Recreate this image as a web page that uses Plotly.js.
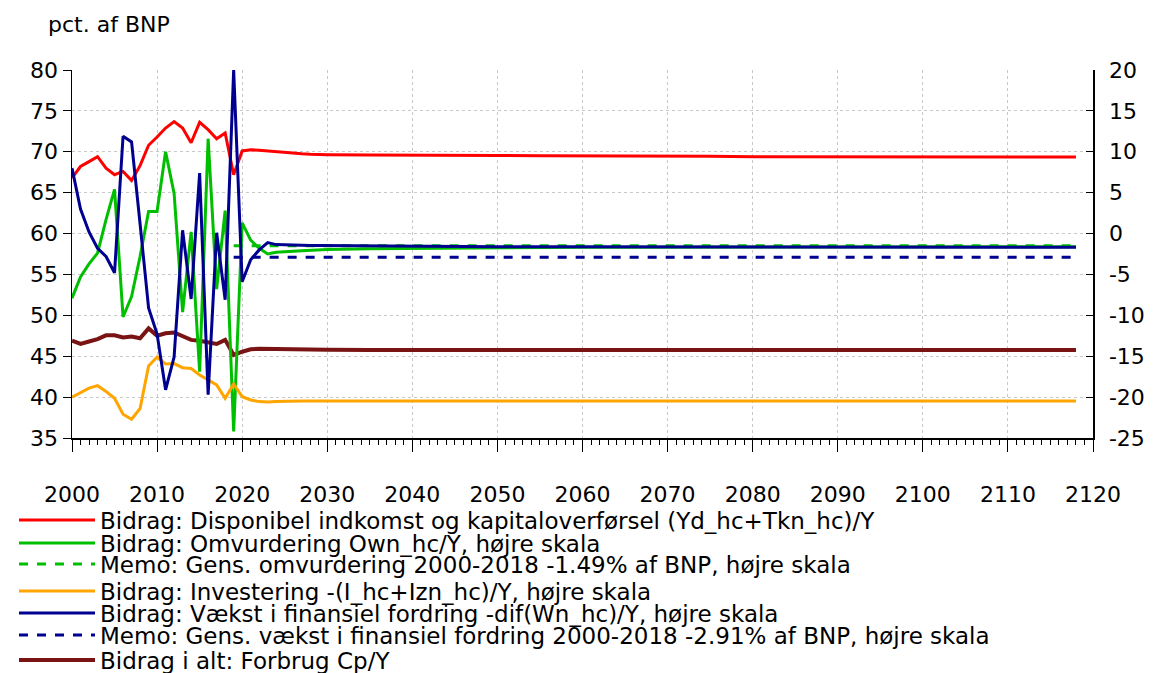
<!DOCTYPE html>
<html>
<head>
<meta charset="utf-8">
<script src="https://cdn.plot.ly/plotly-3.0.1.min.js"></script>
<style>
  html, body { margin: 0; padding: 0; background: #fff; }
  #chart { width: 1155px; height: 673px; }
</style>
</head>
<body>
<div id="chart"></div>
<script>
// ---- Data ----
const years = [2000,2001,2002,2003,2004,2005,2006,2007,2008,2009,2010,2011,2012,2013,2014,2015,2016,2017,2018,2019,2020,2021,2022,2023,2024,2025,2026,2027,2028,2029,2030,2035,2040,2045,2050,2055,2060,2065,2070,2075,2080,2085,2090,2095,2100,2105,2110,2115,2118];

// Left scale
const indkomst = [66.8,68.2,68.8,69.4,68.0,67.2,67.6,66.5,68.3,70.8,71.8,72.9,73.7,72.9,71.1,73.6,72.7,71.6,72.3,67.2,70.1,70.25,70.2,70.1,70.0,69.9,69.8,69.75,69.7,69.7,69.65,69.6,69.6,69.55,69.55,69.5,69.5,69.5,69.45,69.45,69.4,69.4,69.4,69.35,69.35,69.35,69.35,69.35,69.35];
const forbrug = [46.9,46.5,46.8,47.1,47.55,47.55,47.3,47.4,47.2,48.4,47.5,47.8,47.9,47.5,47.0,46.9,46.65,46.5,47.0,45.15,45.55,45.85,45.9,45.88,45.85,45.85,45.82,45.8,45.8,45.78,45.78,45.76,45.75,45.75,45.75,45.75,45.75,45.75,45.75,45.75,45.75,45.75,45.75,45.75,45.75,45.75,45.75,45.75,45.75];

// Right scale
const omvurdering = [-7.9,-5.3,-3.7,-2.4,1.7,5.4,-10.2,-7.7,-2.8,2.7,2.7,10.0,4.9,-9.6,0.2,-16.9,11.6,-6.8,2.8,-24.2,1.3,-0.8,-1.8,-2.5,-2.3,-2.2,-2.15,-2.1,-2.05,-2.0,-1.95,-1.85,-1.8,-1.75,-1.72,-1.7,-1.68,-1.67,-1.66,-1.65,-1.64,-1.63,-1.63,-1.62,-1.62,-1.62,-1.62,-1.62,-1.62];
const investering = [-20.0,-19.5,-18.9,-18.6,-19.3,-20.15,-22.1,-22.7,-21.4,-16.2,-15.1,-15.95,-15.9,-16.4,-16.5,-17.3,-17.9,-18.5,-20.15,-18.4,-19.95,-20.35,-20.55,-20.6,-20.55,-20.5,-20.5,-20.48,-20.47,-20.47,-20.47,-20.47,-20.47,-20.47,-20.47,-20.47,-20.47,-20.47,-20.47,-20.47,-20.47,-20.47,-20.47,-20.47,-20.47,-20.47,-20.47,-20.47,-20.47];
const fordring = [8.0,3.0,0.2,-1.8,-2.8,-4.8,11.9,11.2,1.2,-9.1,-12.3,-19.1,-15.1,0.4,-8.0,7.4,-19.7,0.1,-8.1,20.0,-5.9,-3.2,-2.0,-1.1,-1.35,-1.4,-1.42,-1.44,-1.46,-1.47,-1.48,-1.52,-1.55,-1.58,-1.6,-1.61,-1.62,-1.63,-1.64,-1.65,-1.65,-1.66,-1.66,-1.67,-1.67,-1.67,-1.67,-1.67,-1.67];

const memoYears = [2019, 2118];
const memoOmv = [-1.49, -1.49];
const memoFord = [-2.91, -2.91];

const names = [
  'Bidrag: Disponibel indkomst og kapitaloverførsel (Yd_hc+Tkn_hc)/Y',
  'Bidrag: Omvurdering Own_hc/Y, højre skala',
  'Memo: Gens. omvurdering 2000-2018 -1.49% af BNP, højre skala',
  'Bidrag: Investering -(I_hc+Izn_hc)/Y, højre skala',
  'Bidrag: Vækst i finansiel fordring -dif(Wn_hc)/Y, højre skala',
  'Memo: Gens. vækst i finansiel fordring 2000-2018 -2.91% af BNP, højre skala',
  'Bidrag i alt: Forbrug Cp/Y'
];
const leftTicks = [35,40,45,50,55,60,65,70,75,80];
const rightTicks = [-25,-20,-15,-10,-5,0,5,10,15,20];

// ---- Styling ----
const FONT = 'DejaVu Sans, Verdana, sans-serif';
const RED = '#ff0000', GREEN = '#00bf00', ORANGE = '#ffa500', NAVY = '#000090', BROWN = '#7a1414';

const series = [
  {x: years, y: indkomst, yaxis: 'y', color: RED, width: 3, dash: 'solid'},
  {x: years, y: omvurdering, yaxis: 'y2', color: GREEN, width: 3, dash: 'solid'},
  {x: memoYears, y: memoOmv, yaxis: 'y2', color: GREEN, width: 3, dash: 'dash'},
  {x: years, y: investering, yaxis: 'y2', color: ORANGE, width: 3, dash: 'solid'},
  {x: years, y: fordring, yaxis: 'y2', color: NAVY, width: 3, dash: 'solid'},
  {x: memoYears, y: memoFord, yaxis: 'y2', color: NAVY, width: 3, dash: 'dash'},
  {x: years, y: forbrug, yaxis: 'y', color: BROWN, width: 4, dash: 'solid'}
];

const legendRows = [520, 543, 564, 591, 613, 635, 660];

const traces = series.map((s, i) => ({
  type: 'scatter', mode: 'lines',
  x: s.x, y: s.y, yaxis: s.yaxis,
  name: names[i],
  legend: i === 0 ? 'legend' : 'legend' + (i + 1),
  line: {color: s.color, width: s.width, dash: s.dash},
  hoverinfo: 'x+y+name'
}));

const layout = {
  width: 1155, height: 673,
  margin: {l: 72, r: 62, t: 70, b: 235, pad: 0, autoexpand: false},
  paper_bgcolor: '#ffffff', plot_bgcolor: '#ffffff',
  font: {family: FONT, size: 22, color: '#000'},
  showlegend: true,
  xaxis: {
    range: [2000, 2120], tickmode: 'linear', tick0: 2000, dtick: 10,
    tickangle: 0, automargin: false,
    showgrid: true, gridcolor: '#c8c8c8', griddash: 'dot', gridwidth: 1,
    showline: true, linecolor: '#000', linewidth: 1.5,
    ticks: 'outside', ticklen: 12, tickcolor: '#000', tickwidth: 1,
    ticklabelstandoff: 24,
    minor: {tickmode: 'linear', tick0: 2000, dtick: 1, ticks: 'outside', ticklen: 5, tickcolor: '#000', tickwidth: 1, showgrid: false},
    zeroline: false, tickfont: {family: FONT, size: 22, color: '#000'}
  },
  yaxis: {
    range: [35, 80], tickvals: leftTicks, ticktext: leftTicks.map(String), automargin: false,
    showgrid: true, gridcolor: '#c8c8c8', griddash: 'dot', gridwidth: 1,
    showline: true, linecolor: '#000', linewidth: 1.5,
    ticks: 'outside', ticklen: 8, tickcolor: '#000',
    zeroline: false, tickfont: {family: FONT, size: 22, color: '#000'}
  },
  yaxis2: {
    range: [-25, 20], tickvals: rightTicks, ticktext: rightTicks.map(String), automargin: false,
    overlaying: 'y', side: 'right', showgrid: false,
    showline: true, linecolor: '#000', linewidth: 1.5,
    ticks: 'inside', ticklen: 7, tickcolor: '#000',
    ticklabelstandoff: 10,
    zeroline: false, tickfont: {family: FONT, size: 22, color: '#000'}
  },
  annotations: [
    {text: 'pct. af BNP', xref: 'paper', yref: 'paper', x: (46 - 72) / 1021, y: 1 + (70 - 24) / 368,
     xanchor: 'left', yanchor: 'middle', showarrow: false,
     font: {family: FONT, size: 22, color: '#000'}}
  ]
};

legendRows.forEach((yc, i) => {
  const key = i === 0 ? 'legend' : 'legend' + (i + 1);
  layout[key] = {
    xref: 'container', yref: 'container',
    x: 14 / 1155, y: 1 - yc / 673, xanchor: 'left', yanchor: 'middle',
    bgcolor: 'rgba(0,0,0,0)', borderwidth: 0,
    font: {family: FONT, size: 23, color: '#000'},
    itemwidth: 76, tracegroupgap: 0
  };
});

Plotly.newPlot('chart', traces, layout, {displayModeBar: false, staticPlot: true});
</script>
</body>
</html>
